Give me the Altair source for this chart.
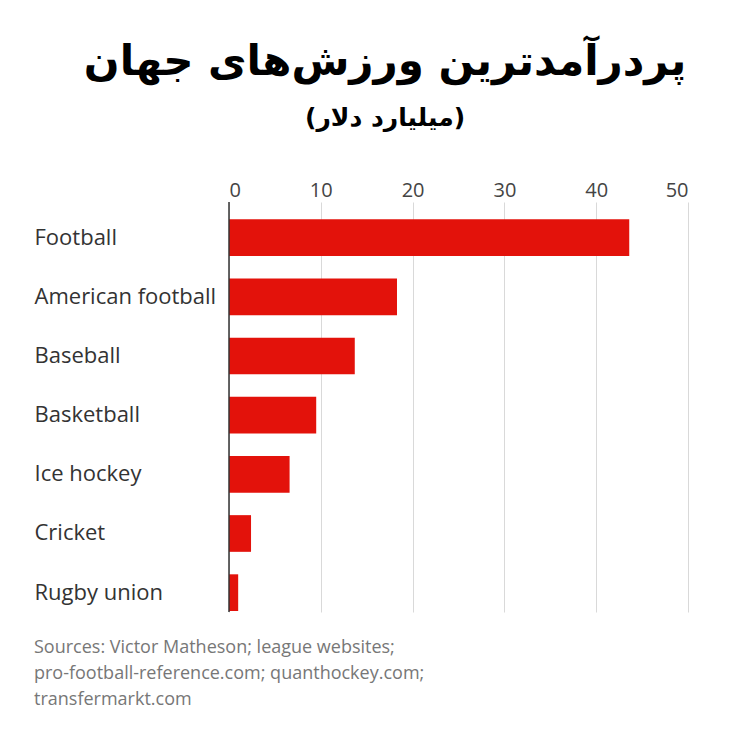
import altair as alt
import pandas as pd

sports = ["Football", "American football", "Baseball", "Basketball",
          "Ice hockey", "Cricket", "Rugby union"]
revenue = [43.6, 18.3, 13.7, 9.5, 6.6, 2.4, 1.0]
x_ticks = [0, 10, 20, 30, 40, 50]
title_text = "پردرآمدترین ورزش‌های جهان"
subtitle_text = "(میلیارد دلار)"
source_lines = ["Sources: Victor Matheson; league websites;",
                "pro-football-reference.com; quanthockey.com;",
                "transfermarkt.com"]

df = pd.DataFrame({"sport": sports, "revenue": revenue})

W, H = 459, 410
LATIN = "Open Sans"

bars = alt.Chart(df).mark_bar(color="#E3120B").encode(
    x=alt.X("revenue:Q",
            scale=alt.Scale(domain=[0, 50], nice=False),
            axis=alt.Axis(orient="top", values=x_ticks, title=None,
                          domain=False, ticks=False, labelPadding=2,
                          labelFontSize=20, labelColor="#444",
                          labelFont=LATIN, grid=True, gridColor="#d9d9d9",
                          gridWidth=1)),
    y=alt.Y("sport:N", sort=sports,
            scale=alt.Scale(paddingInner=0.38, paddingOuter=0.155, align=0.945),
            axis=alt.Axis(title=None, domain=False, ticks=False,
                          labelAlign="left", labelPadding=195,
                          labelFontSize=22, labelColor="#333",
                          labelFont=LATIN, labelLimit=400)),
)

zero = alt.Chart(pd.DataFrame({"z": [0]})).mark_rule(
    color="#333", strokeWidth=1.5).encode(x="z:Q")

title = alt.Chart(pd.DataFrame({"t": [title_text]})).mark_text(
    font="DejaVu Sans", fontWeight="bold", fontSize=42, color="#000",
    align="center", baseline="middle").encode(
    text="t:N", x=alt.value(156), y=alt.value(-140))

subtitle = alt.Chart(pd.DataFrame({"t": [subtitle_text]})).mark_text(
    font="DejaVu Sans", fontWeight="bold", fontSize=25, color="#000",
    align="center", baseline="middle").encode(
    text="t:N", x=alt.value(156), y=alt.value(-84))

src = alt.Chart(pd.DataFrame({"t": ["\n".join(source_lines)]})).mark_text(
    font=LATIN, fontSize=18, color="#777", align="left", baseline="middle",
    lineBreak="\n", lineHeight=26).encode(
    text="t:N", x=alt.value(-195), y=alt.value(446))

chart = alt.layer(bars, zero, title, subtitle, src).properties(
    width=W, height=H,
    autosize=alt.AutoSizeParams(type="none"),
    padding={"left": 229, "top": 202, "right": 62, "bottom": 138},
    background="white",
).configure_view(stroke=None)

chart.save("out.html", embed_options={"renderer": "svg", "actions": False})
